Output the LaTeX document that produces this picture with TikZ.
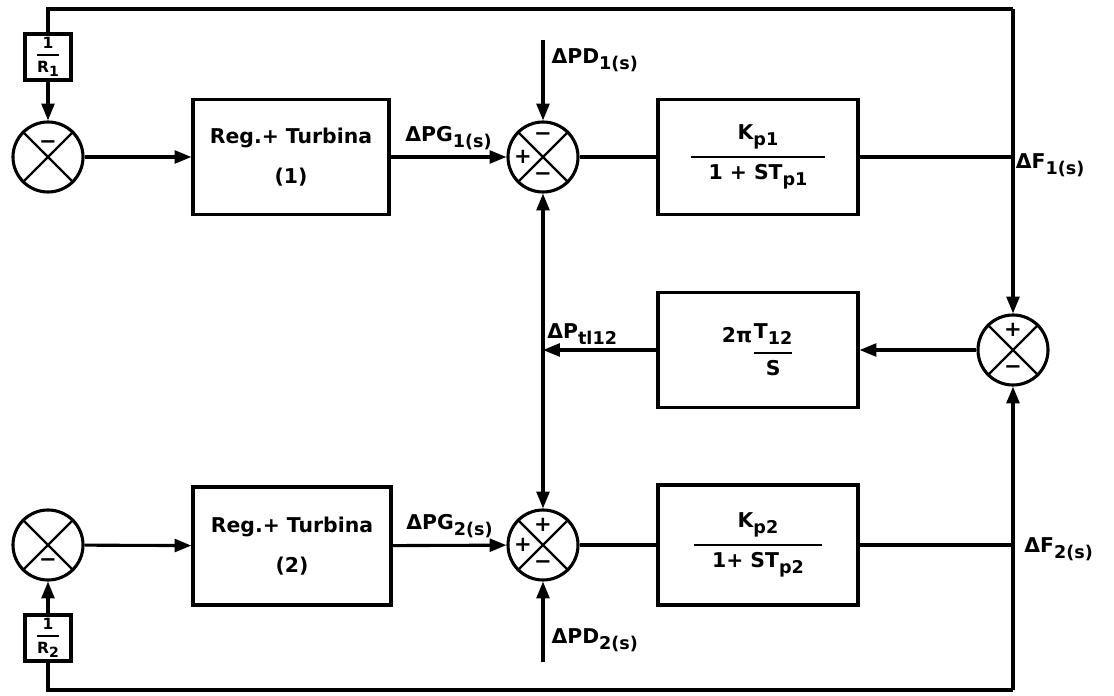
\documentclass[tikz,border=0pt]{standalone}
\usepackage{amsmath}
\usepackage{fontspec}
\setmainfont{DejaVu Sans}
\usetikzlibrary{arrows.meta}

% subindice bajado, como en el rotulado original
\newcommand{\ix}[1]{\raisebox{-0.3em}{\fontsize{12.5}{13}\selectfont #1}}
\newcommand{\ixr}[1]{\raisebox{-0.25em}{\fontsize{10}{10}\selectfont #1}}

\begin{document}
\begin{tikzpicture}[
    x=0.025cm,
    y=-0.025cm,
    >={Triangle[length=4.2mm,width=3.2mm]},
    line width=2.2pt,
    font=\fontsize{14.5}{17}\selectfont\bfseries,
    bloque/.style={
        draw,
        minimum width=5cm,
        minimum height=2.875cm,
        align=center
    },
    ganancia/.style={
        draw,
        minimum width=1.15cm,
        minimum height=1.15cm,
        inner sep=0pt,
        font=\fontsize{11}{11}\selectfont\bfseries
    },
    sumador/.style={
        draw,
        circle,
        minimum size=1.75cm,
        inner sep=0pt
    },
    signo/.style={
        inner sep=0pt,
        font=\fontsize{15}{15}\selectfont\bfseries
    },
    etiqueta/.style={
        inner sep=1pt
    }
]
    \useasboundingbox (0,0) rectangle (1114,696);

    % area 1
    \node[sumador] (suma1) at (48,157) {};
    \node[bloque, minimum width=4.9cm] (regulador1) at (291,157)
        {Reg.+ Turbina\\[0.4cm](1)};
    \node[sumador] (suma2) at (543,157) {};
    \node[bloque] (planta1) at (758,157)
        {$\genfrac{}{}{1.6pt}{0}{\text{K\ix{p1}}}{\hspace{0.45cm}\text{1 + ST\ix{p1}}\hspace{0.45cm}}$};
    \node[ganancia] (ganancia1) at (48,57)
        {$\genfrac{}{}{1.3pt}{0}{\text{1}}{\text{R\ixr{1}}}$};

    % linea de enlace
    \node[sumador] (suma3) at (1013,350) {};
    \node[bloque] (enlace) at (758,350)
        {\raisebox{0.75em}{2π}$\genfrac{}{}{1.6pt}{0}{\text{T\ix{12}}}{\text{S}}$};

    % area 2
    \node[sumador] (suma4) at (48,545) {};
    \node[bloque, minimum width=4.95cm, minimum height=2.95cm] (regulador2) at (292,546)
        {Reg.+ Turbina\\[0.4cm](2)};
    \node[sumador] (suma5) at (543,545) {};
    \node[bloque, minimum height=3cm] (planta2) at (758,545)
        {$\genfrac{}{}{1.6pt}{0}{\text{K\ix{p2}}}{\hspace{0.45cm}\text{1+ ST\ix{p2}}\hspace{0.45cm}}$};
    \node[ganancia] (ganancia2) at (48,638)
        {$\genfrac{}{}{1.3pt}{0}{\text{1}}{\text{R\ixr{2}}}$};

    \coordinate (arriba) at (1013,9);
    \coordinate (abajo) at (1013,690);
    \coordinate (pd1) at (543,40);
    \coordinate (pd2) at (543,662);

    % cruces de los sumadores
    \foreach \s in {suma1,suma2,suma3,suma4,suma5}
        \draw[line width=1.7pt] (\s.north east) -- (\s.south west)
              (\s.north west) -- (\s.south east);

    % signos
    \node[signo] at ([yshift=0.3cm]suma1.center) {−};
    \node[signo] at ([xshift=-0.5cm]suma2.center) {+};
    \node[signo] at ([yshift=0.5cm]suma2.center) {−};
    \node[signo] at ([yshift=-0.5cm]suma2.center) {−};
    \node[signo] at ([yshift=0.5cm]suma3.center) {+};
    \node[signo] at ([yshift=-0.5cm]suma3.center) {−};
    \node[signo] at ([yshift=-0.45cm]suma4.center) {−};
    \node[signo] at ([xshift=-0.5cm]suma5.center) {+};
    \node[signo] at ([yshift=0.5cm]suma5.center) {+};
    \node[signo] at ([yshift=-0.5cm]suma5.center) {−};

    % lazo 1
    \draw[->] (suma1) -- (regulador1);
    \draw[->] (regulador1) -- node[etiqueta, above=3pt] {ΔPG\ix{1(s)}} (suma2);
    \draw (suma2) -- (planta1);
    \draw (planta1) -- (planta1 -| suma3)
        node[etiqueta, anchor=west, yshift=-0.2cm] {ΔF\ix{1(s)}};
    \draw[->] (pd1) -- node[etiqueta, pos=0.25, right=4pt] {ΔPD\ix{1(s)}} (suma2);
    \draw (arriba) -| (ganancia1);
    \draw[->] (ganancia1) -- (suma1);
    \draw[->] (arriba) -- (suma3);

    % enlace
    \draw[->] (suma3) -- (enlace);
    \draw[->] (enlace) -- (enlace -| suma2) coordinate (ptie)
        node[etiqueta, anchor=south west, xshift=1pt, yshift=2pt] {ΔP\ix{tl12}};
    \draw[->] (ptie) -- (suma2);
    \draw[->] (ptie) -- (suma5);

    % lazo 2
    \draw[->] (suma4) -- (regulador2);
    \draw[->] (regulador2) -- node[etiqueta, above=3pt] {ΔPG\ix{2(s)}} (suma5);
    \draw (suma5) -- (planta2);
    \draw (planta2) -- (planta2 -| suma3)
        node[etiqueta, anchor=west, xshift=6pt, yshift=-0.1cm] {ΔF\ix{2(s)}};
    \draw[->] (pd2) -- node[etiqueta, pos=0.27, right=4pt] {ΔPD\ix{2(s)}} (suma5);
    \draw (abajo) -| (ganancia2);
    \draw[->] (ganancia2) -- (suma4);
    \draw[->] (abajo) -- (suma3);
\end{tikzpicture}
\end{document}
